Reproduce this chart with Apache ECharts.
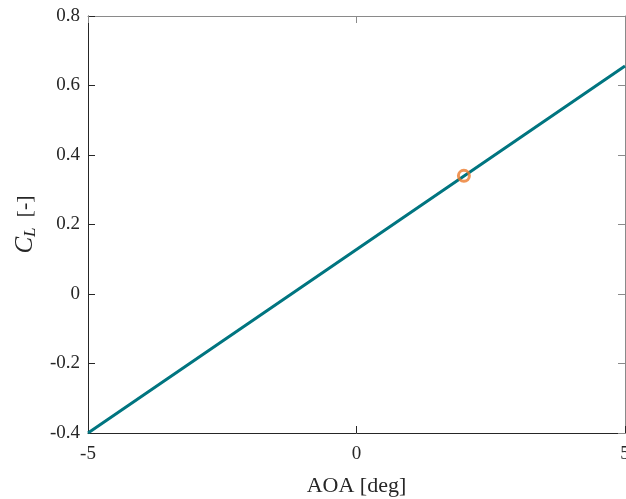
<!DOCTYPE html>
<html>
<head>
<meta charset="utf-8">
<script src="https://cdn.jsdelivr.net/npm/echarts@6/dist/echarts.min.js"></script>
<style>
  html, body { margin: 0; padding: 0; background: #fff; }
  #chart { width: 626px; height: 499px; }
</style>
</head>
<body>
<div id="chart"></div>
<script>
// Lift curve: angle of attack [deg] vs lift coefficient
const aoa = [-5, 0, 5];
const cl = [-0.4, 0.128, 0.656];
// Operating point
const opAoa = [2];
const opCl = [0.34];
// Axis ticks
const xTicks = [-5, 0, 5];
const yTicks = [-0.4, -0.2, 0, 0.2, 0.4, 0.6, 0.8];

const serif = '"Liberation Serif", "DejaVu Serif", serif';
const dark = '#262626';
const light = '#8a8a8a';

const chart = echarts.init(document.getElementById('chart'));
chart.setOption({
  animation: false,
  backgroundColor: '#fff',
  grid: { left: 88, top: 16, right: 1, bottom: 66, containLabel: false, outerBoundsMode: 'none' },
  xAxis: [{
    type: 'value', min: xTicks[0], max: xTicks[xTicks.length - 1], interval: 5,
    position: 'bottom',
    name: 'AOA [deg]', nameLocation: 'middle', nameGap: 42,
    nameTextStyle: { fontFamily: serif, fontSize: 22, color: dark },
    axisLine: { show: true, onZero: false, lineStyle: { color: dark, width: 1 } },
    axisTick: { show: true, inside: true, length: 7, lineStyle: { color: dark } },
    axisLabel: { fontFamily: serif, fontSize: 19, color: dark, margin: 12 },
    splitLine: { show: false }
  }, {
    type: 'value', min: xTicks[0], max: xTicks[xTicks.length - 1], interval: 5,
    position: 'top',
    axisLine: { show: true, onZero: false, lineStyle: { color: light, width: 1 } },
    axisTick: { show: true, inside: true, length: 7, lineStyle: { color: light } },
    axisLabel: { show: false },
    splitLine: { show: false }
  }],
  yAxis: [{
    type: 'value', min: yTicks[0], max: yTicks[yTicks.length - 1], interval: 0.2,
    position: 'left',
    name: '{i|C}{s|L}   {n|[-]}', nameLocation: 'middle', nameGap: 43,
    nameTextStyle: {
      rich: {
        i: { fontFamily: serif, fontStyle: 'italic', fontSize: 25, color: dark },
        s: { fontFamily: serif, fontStyle: 'italic', fontSize: 17, color: dark, verticalAlign: 'bottom', padding: [10, 0, 0, 0] },
        n: { fontFamily: serif, fontSize: 22, color: dark }
      }
    },
    axisLine: { show: true, onZero: false, lineStyle: { color: dark, width: 1 } },
    axisTick: { show: true, inside: true, length: 7, lineStyle: { color: dark } },
    axisLabel: { fontFamily: serif, fontSize: 19, color: dark, margin: 8,
      formatter: v => (Math.round(v * 10) / 10).toString() },
    splitLine: { show: false }
  }, {
    type: 'value', min: yTicks[0], max: yTicks[yTicks.length - 1], interval: 0.2,
    position: 'right',
    axisLine: { show: true, onZero: false, lineStyle: { color: light, width: 1 } },
    axisTick: { show: true, inside: true, length: 7, lineStyle: { color: light } },
    axisLabel: { show: false },
    splitLine: { show: false }
  }],
  series: [{
    type: 'line',
    data: aoa.map((a, i) => [a, cl[i]]),
    showSymbol: false,
    lineStyle: { color: '#007580', width: 3 },
    z: 2
  }, {
    type: 'scatter',
    data: opAoa.map((a, i) => [a, opCl[i]]),
    symbol: 'circle',
    symbolSize: 11,
    itemStyle: { color: 'rgba(0,0,0,0)', borderColor: '#ec7a2c', borderWidth: 3 },
    z: 3
  }]
});
</script>
</body>
</html>
